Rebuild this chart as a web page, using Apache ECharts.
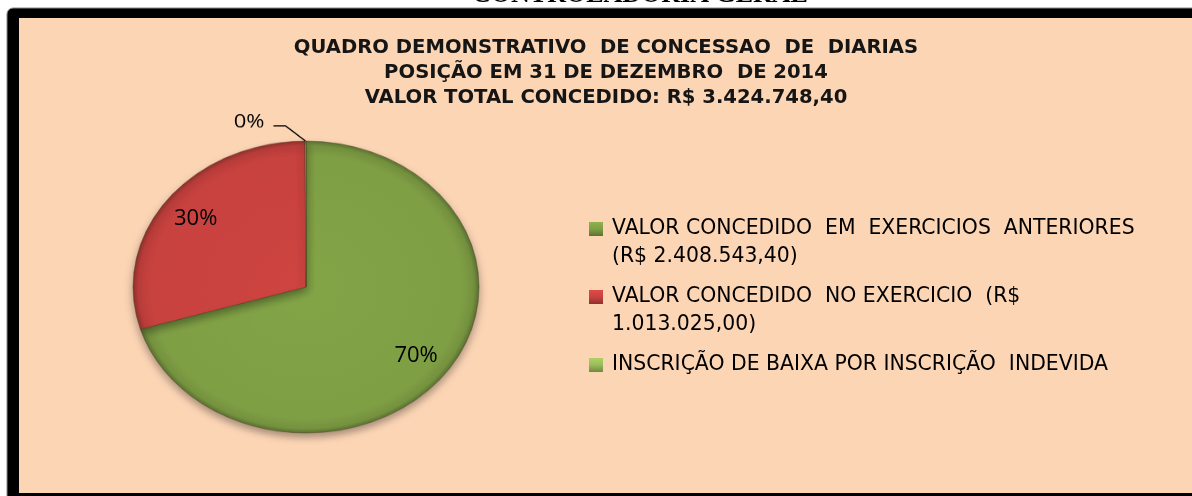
<!DOCTYPE html>
<html>
<head>
<meta charset="utf-8">
<script src="https://cdn.jsdelivr.net/npm/echarts@6/dist/echarts.min.js"></script>
<style>
html,body{margin:0;padding:0;background:#ffffff;}
#wrap{position:relative;width:1192px;height:496px;overflow:hidden;}
.layer{position:absolute;left:0;top:0;width:1192px;height:496px;}
#pieLayer{transform-origin:306px 287px;transform:scaleY(0.844);}
</style>
</head>
<body>
<div id="wrap">
  <div id="frameLayer" class="layer"></div>
  <div id="pieLayer" class="layer"></div>
  <div id="topLayer" class="layer"></div>
</div>
<script>
// ---- data ----
const categories = [
  'VALOR CONCEDIDO  EM  EXERCICIOS  ANTERIORES\n(R$ 2.408.543,40)',
  'VALOR CONCEDIDO  NO EXERCICIO  (R$\n1.013.025,00)',
  'INSCRIÇÃO DE BAIXA POR INSCRIÇÃO  INDEVIDA'
];
const values = [2408543.40, 1013025.00, 3180.00];
const sliceColors = ['#7F9F45', '#C8423F', '#9BBB59'];
const titleLines = [
  'QUADRO DEMONSTRATIVO  DE CONCESSAO  DE  DIARIAS',
  'POSIÇÃO EM 31 DE DEZEMBRO  DE 2014',
  'VALOR TOTAL CONCEDIDO: R$ 3.424.748,40'
];
const headerText = 'CONTROLADORIA GERAL';

// ---- layout ----
const CX = 306, CY = 287, R = 173, SQUASH = 146 / 173;

function shade(hex, f) {
  const n = parseInt(hex.slice(1), 16);
  let r = (n >> 16) & 255, g = (n >> 8) & 255, b = n & 255;
  r = Math.max(0, Math.min(255, Math.round(r * f)));
  g = Math.max(0, Math.min(255, Math.round(g * f)));
  b = Math.max(0, Math.min(255, Math.round(b * f)));
  return 'rgb(' + r + ',' + g + ',' + b + ')';
}
function sliceFill(hex) {
  return {
    type: 'radial', x: CX, y: CY, r: R, global: true,
    colorStops: [
      { offset: 0, color: shade(hex, 1.03) },
      { offset: 0.9, color: hex },
      { offset: 0.97, color: shade(hex, 0.92) },
      { offset: 1, color: shade(hex, 0.72) }
    ]
  };
}
function iconFill(hex) {
  // the icon square occupies the top third of its 18x42 symbol box
  return {
    type: 'linear', x: 0, y: 0, x2: 0, y2: 1 / 3,
    colorStops: [
      { offset: 0, color: shade(hex, 1.12) },
      { offset: 0.5, color: hex },
      { offset: 1, color: shade(hex, 0.72) }
    ]
  };
}

// ---- frame layer ----
const frameChart = echarts.init(document.getElementById('frameLayer'), null, { renderer: 'canvas' });
frameChart.setOption({
  backgroundColor: '#ffffff',
  animation: false,
  title: {
    text: titleLines.join('\n'),
    left: 606, top: 35, textAlign: 'center', padding: 0,
    textStyle: { fontFamily: 'DejaVu Sans', fontWeight: 'bold', fontSize: 19.6, lineHeight: 25, color: '#151515' }
  },
  graphic: [
    { type: 'text', z: 0, style: { text: headerText, x: 640, y: 8, align: 'center', verticalAlign: 'bottom',
      font: 'bold 26px "Liberation Serif"', fill: '#000000' } },
    { type: 'rect', z: 1, shape: { x: 7, y: 8, width: 1200, height: 492, r: [6, 0, 0, 0] },
      style: { fill: '#000000', stroke: '#8a8a8a', lineWidth: 1 } },
    { type: 'rect', z: 2, shape: { x: 19, y: 18, width: 1180, height: 475 },
      style: { fill: '#FCD5B5' } }
  ]
});

// ---- pie layer (squashed into an ellipse) ----
const pieChart = echarts.init(document.getElementById('pieLayer'), null, { renderer: 'canvas' });
pieChart.setOption({
  animation: false,
  series: [{
    type: 'pie',
    center: [CX, CY],
    radius: R,
    startAngle: 90,
    clockwise: true,
    percentPrecision: 0,
    silent: true,
    avoidLabelOverlap: false,
    itemStyle: { borderColor: 'rgba(70,60,30,0.45)', borderWidth: 1,
      shadowBlur: 10, shadowOffsetY: 5, shadowColor: 'rgba(0,0,0,0.35)' },
    label: { position: 'outside', formatter: '{d}%', fontFamily: 'Open Sans', fontSize: 22, color: '#000000' },
    labelLine: { length: 22, length2: 12, lineStyle: { color: '#000000', width: 1.4 } },
    labelLayout: function (p) {
      const pts = p.labelLinePoints;
      if (!pts) return { dx: -22 };
      return {
        dx: -24,
        labelLinePoints: [
          pts[0],
          [pts[1][0] - 20, pts[1][1] + 4],
          [pts[2][0] - 20, pts[2][1] + 4]
        ]
      };
    },
    data: categories.map((n, i) => ({
      name: n, value: values[i],
      itemStyle: { color: sliceFill(sliceColors[i]) },
      label: { show: i === 2 },
      labelLine: { show: i === 2 }
    }))
  }]
});

// ---- top layer: legend and percent labels ----
const topChart = echarts.init(document.getElementById('topLayer'), null, { renderer: 'canvas' });
topChart.setOption({
  animation: false,
  legend: {
    orient: 'vertical', left: 589, top: 215, padding: 0,
    itemWidth: 18, itemHeight: 42, itemGap: 12, selectedMode: false,
    formatter: function (name) { return name.indexOf('\n') >= 0 ? name : name + '\n '; },
    textStyle: { fontFamily: 'DejaVu Sans', fontSize: 20.4, lineHeight: 28, color: '#000000' },
    data: categories.map((n, i) => ({
      name: n,
      icon: 'path://M0,0H14V14H0Z M0,42L18,42',
      itemStyle: { color: iconFill(sliceColors[i]), borderWidth: 0 }
    }))
  },
  series: [{
    type: 'pie',
    center: [CX, CY],
    radius: [R * 0.55, R],
    startAngle: 90,
    clockwise: true,
    percentPrecision: 0,
    silent: true,
    avoidLabelOverlap: false,
    itemStyle: { color: 'rgba(0,0,0,0)' },
    label: { position: 'inside', formatter: '{d}%', fontFamily: 'Open Sans', fontSize: 22, color: '#000000' },
    labelLayout: function (p) {
      const mid = p.labelRect.y + p.labelRect.height / 2;
      return { dy: (mid - CY) * (SQUASH - 1) };
    },
    data: categories.map((n, i) => ({ name: n, value: values[i], label: { show: i !== 2 } }))
  }]
});
</script>
</body>
</html>
